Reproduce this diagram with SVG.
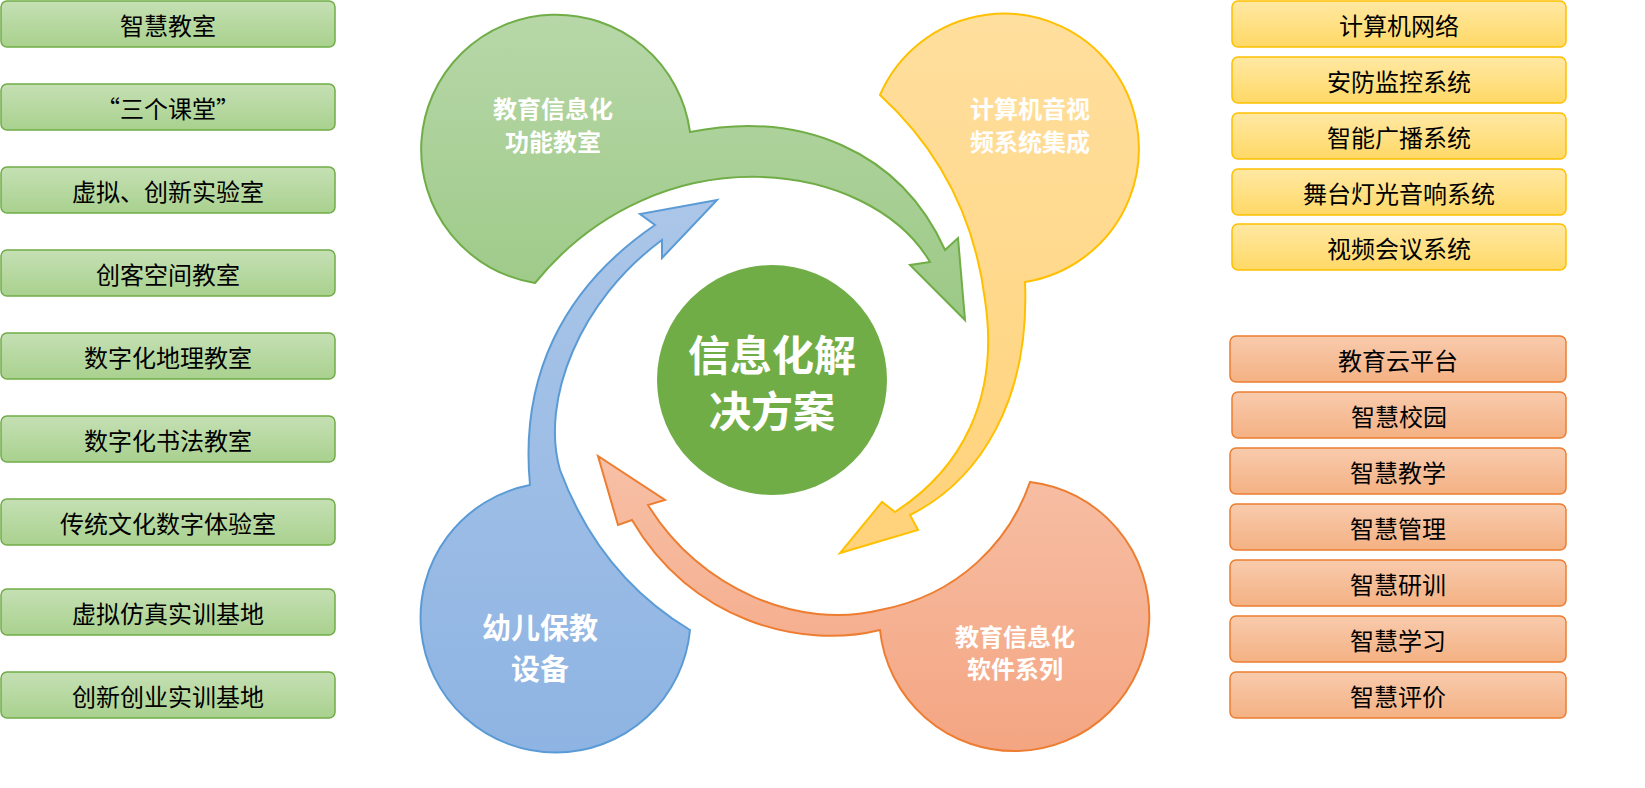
<svg xmlns="http://www.w3.org/2000/svg" width="1645" height="788" viewBox="0 0 1645 788">
<defs>
<linearGradient id="gG" x1="0" y1="0" x2="0" y2="1"><stop offset="0" stop-color="#b7d7a8"/><stop offset="1" stop-color="#9cc986"/></linearGradient>
<linearGradient id="gY" x1="0" y1="0" x2="0" y2="1"><stop offset="0" stop-color="#ffdf9e"/><stop offset="1" stop-color="#ffd27a"/></linearGradient>
<linearGradient id="gO" x1="0" y1="0" x2="0" y2="1"><stop offset="0" stop-color="#f7c0a6"/><stop offset="1" stop-color="#f4a582"/></linearGradient>
<linearGradient id="gB" x1="0" y1="0" x2="0" y2="1"><stop offset="0" stop-color="#abc6e8"/><stop offset="1" stop-color="#8eb4e3"/></linearGradient>
<linearGradient id="bG" x1="0" y1="0" x2="0" y2="1"><stop offset="0" stop-color="#c5e0b4"/><stop offset="1" stop-color="#a9d18e"/></linearGradient>
<linearGradient id="bY" x1="0" y1="0" x2="0" y2="1"><stop offset="0" stop-color="#ffe8a3"/><stop offset="1" stop-color="#ffd966"/></linearGradient>
<linearGradient id="bO" x1="0" y1="0" x2="0" y2="1"><stop offset="0" stop-color="#f8cbad"/><stop offset="1" stop-color="#f4b183"/></linearGradient>
</defs>
<style>
text{font-family:"Noto Sans CJK SC","Noto Sans",sans-serif;text-anchor:middle;dominant-baseline:central}
.lbl{font-size:24px;fill:#000}
.w{fill:#fff;font-weight:bold;font-size:24px}
.bg rect{fill:url(#bG);stroke:#70ad47;stroke-width:1.5}
.by rect{fill:url(#bY);stroke:#ffc000;stroke-width:1.5}
.bo rect{fill:url(#bO);stroke:#ed7d31;stroke-width:1.5}
</style>
<g id="connectors">
<path id="green" d="M535,283 A135,135 0 1 1 690,132 C800,110 900,150 945,250 L958,238 L965,320 L910,265 L930,262 C870,160 660,130 535,283 Z" fill="url(#gG)" stroke="#70ad47" stroke-width="2"/>
<path id="yellow" d="M880,95 A135,135 0 1 1 1025,282 C1030,400 980,480 910,515 L918,530 L840,553 L882,502 L895,512 C960,470 1000,400 985,300 C975,220 940,150 880,95 Z" fill="url(#gY)" stroke="#ffc000" stroke-width="2"/>
<path id="orange" d="M1030,482 A135,135 0 1 1 880,630 C800,650 690,620 632,520 L618,525 L598,456 L665,500 L648,505 C700,590 800,630 880,610 C960,595 1010,540 1030,482 Z" fill="url(#gO)" stroke="#ed7d31" stroke-width="2"/>
<path id="blue" d="M690,630 A135,135 0 1 1 530,485 C520,380 560,290 655,225 L640,214 L717,200 L662,258 L662,240 C580,300 540,400 560,470 C590,550 640,600 690,630 Z" fill="url(#gB)" stroke="#5b9bd5" stroke-width="2"/>
</g>
<g id="blob-green"><text class="w" x="553" y="107">教育信息化</text><text class="w" x="553" y="140">功能教室</text></g>
<g id="blob-yellow"><text class="w" x="1030" y="107">计算机音视</text><text class="w" x="1030" y="140">频系统集成</text></g>
<g id="blob-orange"><text class="w" x="1015" y="635">教育信息化</text><text class="w" x="1015" y="667">软件系列</text></g>
<g id="blob-blue"><text class="w" x="540" y="626" style="font-size:29px">幼儿保教</text><text class="w" x="540" y="667" style="font-size:29px">设备</text></g>
<g id="center"><circle cx="772" cy="380" r="115" fill="#70ad47"/><text class="w" x="772" y="352" style="font-size:42px">信息化解</text><text class="w" x="772" y="408" style="font-size:42px">决方案</text></g>
<g class="bg">
<g id="l1"><rect x="1" y="1" width="334" height="46" rx="6"/><text class="lbl" x="168" y="24">智慧教室</text></g>
<g id="l2"><rect x="1" y="84" width="334" height="46" rx="6"/><text class="lbl" x="168" y="107">“三个课堂”</text></g>
<g id="l3"><rect x="1" y="167" width="334" height="46" rx="6"/><text class="lbl" x="168" y="190">虚拟、创新实验室</text></g>
<g id="l4"><rect x="1" y="250" width="334" height="46" rx="6"/><text class="lbl" x="168" y="273">创客空间教室</text></g>
<g id="l5"><rect x="1" y="333" width="334" height="46" rx="6"/><text class="lbl" x="168" y="356">数字化地理教室</text></g>
<g id="l6"><rect x="1" y="416" width="334" height="46" rx="6"/><text class="lbl" x="168" y="439">数字化书法教室</text></g>
<g id="l7"><rect x="1" y="499" width="334" height="46" rx="6"/><text class="lbl" x="168" y="522">传统文化数字体验室</text></g>
<g id="l8"><rect x="1" y="589" width="334" height="46" rx="6"/><text class="lbl" x="168" y="612">虚拟仿真实训基地</text></g>
<g id="l9"><rect x="1" y="672" width="334" height="46" rx="6"/><text class="lbl" x="168" y="695">创新创业实训基地</text></g>
</g>
<g class="by">
<g id="y1"><rect x="1232" y="1" width="334" height="46" rx="6"/><text class="lbl" x="1399" y="24">计算机网络</text></g>
<g id="y2"><rect x="1232" y="57" width="334" height="46" rx="6"/><text class="lbl" x="1399" y="80">安防监控系统</text></g>
<g id="y3"><rect x="1232" y="113" width="334" height="46" rx="6"/><text class="lbl" x="1399" y="136">智能广播系统</text></g>
<g id="y4"><rect x="1232" y="169" width="334" height="46" rx="6"/><text class="lbl" x="1399" y="192">舞台灯光音响系统</text></g>
<g id="y5"><rect x="1232" y="224" width="334" height="46" rx="6"/><text class="lbl" x="1399" y="247">视频会议系统</text></g>
</g>
<g class="bo">
<g id="o1"><rect x="1230" y="336" width="336" height="46" rx="6"/><text class="lbl" x="1398" y="359">教育云平台</text></g>
<g id="o2"><rect x="1232" y="392" width="334" height="46" rx="6"/><text class="lbl" x="1399" y="415">智慧校园</text></g>
<g id="o3"><rect x="1230" y="448" width="336" height="46" rx="6"/><text class="lbl" x="1398" y="471">智慧教学</text></g>
<g id="o4"><rect x="1230" y="504" width="336" height="46" rx="6"/><text class="lbl" x="1398" y="527">智慧管理</text></g>
<g id="o5"><rect x="1230" y="560" width="336" height="46" rx="6"/><text class="lbl" x="1398" y="583">智慧研训</text></g>
<g id="o6"><rect x="1230" y="616" width="336" height="46" rx="6"/><text class="lbl" x="1398" y="639">智慧学习</text></g>
<g id="o7"><rect x="1230" y="672" width="336" height="46" rx="6"/><text class="lbl" x="1398" y="695">智慧评价</text></g>
</g>
</svg>
